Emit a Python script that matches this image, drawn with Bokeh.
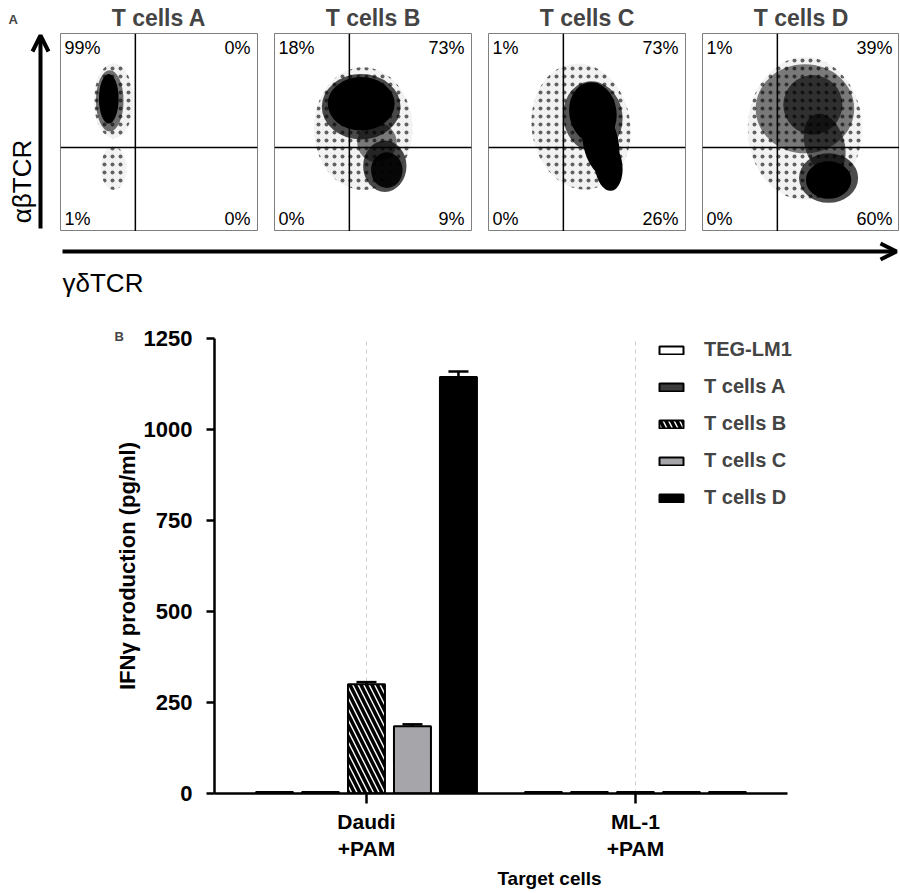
import math
from bokeh.plotting import figure
from bokeh.layouts import column, row
from bokeh.models import (Range1d, Span, Arrow, OpenHead, FixedTicker, Whisker, TeeHead,
                          ColumnDataSource, Legend, LegendItem)
from bokeh.embed import file_html
from bokeh.resources import INLINE
from bokeh.core.properties import value

FONT = "Liberation Sans"

# ---------------- Panel A data ----------------
flow_titles = ["T cells A", "T cells B", "T cells C", "T cells D"]
q_ul = [99, 18, 1, 1]
q_ur = [0, 73, 73, 39]
q_ll = [1, 0, 0, 0]
q_lr = [0, 9, 26, 60]
gate_x = 0.38
gate_y = 0.424

# cell populations approximated as density ellipses (normalised log fluorescence)
pop_cx = [[0.27, 0.27, 0.25, 0.245],
          [0.45, 0.56, 0.57, 0.52, 0.44, 0.44],
          [0.47, 0.53, 0.53, 0.57, 0.61],
          [0.52, 0.52, 0.56, 0.62, 0.64, 0.64]]
pop_cy = [[0.66, 0.32, 0.66, 0.67],
          [0.52, 0.33, 0.31, 0.45, 0.63, 0.645],
          [0.53, 0.58, 0.60, 0.45, 0.33],
          [0.52, 0.62, 0.64, 0.44, 0.27, 0.26]]
pop_w = [[0.20, 0.13, 0.14, 0.10],
         [0.50, 0.22, 0.16, 0.20, 0.40, 0.34],
         [0.50, 0.30, 0.24, 0.18, 0.14],
         [0.58, 0.50, 0.30, 0.20, 0.30, 0.23]]
pop_h = [[0.38, 0.22, 0.31, 0.25],
         [0.62, 0.26, 0.18, 0.20, 0.33, 0.27],
         [0.64, 0.36, 0.31, 0.35, 0.25],
         [0.72, 0.45, 0.30, 0.32, 0.25, 0.19]]
pop_ang = [[0, 0, 0, 0],
           [0, 0, 0, 0, 0, 0],
           [0.15, 0.15, 0.15, 0.2, 0.1],
           [0, 0, -0.2, 0.3, 0, 0]]
pop_dens = [[0.05, 0.05, 0.55, 1.0],
            [0.05, 0.7, 0.9, 0.5, 0.7, 1.0],
            [0.05, 0.65, 1.0, 1.0, 1.0],
            [0.05, 0.5, 0.6, 0.6, 0.7, 1.0]]

# ---------------- Panel B data ----------------
targets = ["Daudi\n+PAM", "ML-1\n+PAM"]
series = ["TEG-LM1", "T cells A", "T cells B", "T cells C", "T cells D"]
teg_lm1 = [4, 4]
tcells_a = [4, 4]
tcells_b = [300, 4]
tcells_c = [185, 4]
tcells_d = [1144, 4]
err_teg = [0, 0]
err_a = [0, 0]
err_b = [6, 0]
err_c = [5, 0]
err_d = [15, 0]
y_ticks = [0, 250, 500, 750, 1000, 1250]

# ---------------- Panel A figures ----------------
def flow_panel(i, left, right):
    p = figure(frame_width=197, frame_height=198, x_range=Range1d(0, 1), y_range=Range1d(0, 1),
               x_axis_location=None, y_axis_location=None,
               min_border_left=left, min_border_right=right, min_border_top=33, min_border_bottom=0,
               toolbar_location=None, output_backend="svg", title=flow_titles[i])
    p.grid.visible = False
    p.outline_line_color = "#7f7f7f"
    p.outline_line_width = 1
    p.title.text_font = FONT
    p.title.text_font_size = "23px"
    p.title.text_font_style = "bold"
    p.title.align = "center"
    p.title.standoff = 5
    p.title.offset = 0
    src = ColumnDataSource(dict(x=pop_cx[i], y=pop_cy[i], w=pop_w[i], h=pop_h[i],
                                a=pop_ang[i], d=pop_dens[i]))
    p.ellipse(x="x", y="y", width="w", height="h", angle="a", fill_color="black",
              fill_alpha="d", line_color=None, source=src)
    halo = [k for k, d in enumerate(pop_dens[i]) if d < 0.2]
    hsrc = ColumnDataSource(dict(x=[pop_cx[i][k] for k in halo], y=[pop_cy[i][k] for k in halo],
                                 w=[pop_w[i][k] for k in halo], h=[pop_h[i][k] for k in halo],
                                 a=[pop_ang[i][k] for k in halo]))
    p.ellipse(x="x", y="y", width="w", height="h", angle="a", fill_alpha=0, line_color=None,
              hatch_pattern="dot", hatch_color="black", hatch_scale=8, hatch_weight=1,
              hatch_alpha=0.6, source=hsrc)
    p.add_layout(Span(location=gate_x, dimension="height", line_color="black", line_width=1.5))
    p.add_layout(Span(location=gate_y, dimension="width", line_color="black", line_width=1.5))
    kw = dict(text_font=value(FONT), text_font_size="18px", text_color="black")
    p.text(x=[0.02], y=[0.975], text=[f"{q_ul[i]}%"], text_align="left", text_baseline="top", **kw)
    p.text(x=[0.965], y=[0.975], text=[f"{q_ur[i]}%"], text_align="right", text_baseline="top", **kw)
    p.text(x=[0.02], y=[0.015], text=[f"{q_ll[i]}%"], text_align="left", text_baseline="bottom", **kw)
    p.text(x=[0.965], y=[0.015], text=[f"{q_lr[i]}%"], text_align="right", text_baseline="bottom", **kw)
    return p

flows = [flow_panel(0, 0, 1), flow_panel(1, 16, 1), flow_panel(2, 16, 1), flow_panel(3, 16, 0)]

# left strip with alpha-beta arrow (frame aligned with the flow frames)
sa = figure(frame_width=60, frame_height=198, x_range=Range1d(0, 60), y_range=Range1d(231, 33),
            x_axis_location=None, y_axis_location=None,
            min_border_left=0, min_border_right=0, min_border_top=33, min_border_bottom=0,
            toolbar_location=None, output_backend="svg", title="A")
sa.grid.visible = False
sa.outline_line_color = None
sa.title.text_font = FONT
sa.title.text_font_size = "13px"
sa.title.text_font_style = "bold"
sa.title.align = "left"
sa.title.offset = 8
sa.title.standoff = 14
sa.add_layout(Arrow(end=OpenHead(size=16, line_width=4, line_color="black"),
                    x_start=40, y_start=228, x_end=40, y_end=35, line_width=4, line_color="black"))
sa.text(x=[21], y=[181], text=["αβTCR"], angle=math.pi / 2, text_align="center",
        text_baseline="middle", text_font=value(FONT), text_font_size="26px")

# strip with gamma-delta arrow
sg = figure(frame_width=899, frame_height=69, x_range=Range1d(0, 899), y_range=Range1d(69, 0),
            x_axis_location=None, y_axis_location=None,
            min_border_left=0, min_border_right=0, min_border_top=0, min_border_bottom=0,
            toolbar_location=None, output_backend="svg")
sg.grid.visible = False
sg.outline_line_color = None
sg.add_layout(Arrow(end=OpenHead(size=16, line_width=4, line_color="black"),
                    x_start=62, y_start=20, x_end=896, y_end=20, line_width=4, line_color="black"))
sg.text(x=[62], y=[51], text=["γδTCR"], text_align="left", text_baseline="middle",
        text_font=value(FONT), text_font_size="26px")

# ---------------- Panel B figure ----------------
x_lo, x_hi = -0.565, 1.565
pb = figure(frame_width=670, frame_height=455, x_range=Range1d(x_lo, 1.926), y_range=Range1d(0, 1250),
            min_border_left=214, min_border_right=15, min_border_top=38, min_border_bottom=90,
            toolbar_location=None, output_backend="svg", title="B")
pb.title.text_font = FONT
pb.title.text_font_size = "13px"
pb.title.text_font_style = "bold"
pb.title.align = "left"
pb.title.offset = -100
pb.title.standoff = -10
pb.outline_line_color = None
pb.ygrid.visible = False
pb.xgrid.grid_line_color = "#cccccc"
pb.xgrid.grid_line_dash = "4 4"
pb.xgrid.grid_line_width = 1

vals = [teg_lm1, tcells_a, tcells_b, tcells_c, tcells_d]
errs = [err_teg, err_a, err_b, err_c, err_d]
fills = ["white", "#3c3c3c", "white", "#a6a6aa", "black"]
hatches = [None, None, "left_diagonal_line", None, None]
step = 0.171
bw = 0.1375
items = []
for s, name in enumerate(series):
    xs = [g + (s - 2) * step for g in range(len(targets))]
    src = ColumnDataSource(dict(x=xs, top=vals[s]))
    kw = {}
    if hatches[s]:
        kw = dict(hatch_pattern=hatches[s], hatch_color="black", hatch_weight=3.5, hatch_scale=11)
    r = pb.vbar(x="x", top="top", bottom=0, width=bw, source=src, fill_color=fills[s],
                line_color="black", line_width=2, **kw)
    items.append(LegendItem(label=name, renderers=[r]))
    ex = [x for x, e in zip(xs, errs[s]) if e > 0]
    if ex:
        lo = [v for v, e in zip(vals[s], errs[s]) if e > 0]
        hi = [v + e for v, e in zip(vals[s], errs[s]) if e > 0]
        wsrc = ColumnDataSource(dict(base=ex, lower=lo, upper=hi))
        pb.add_layout(Whisker(source=wsrc, base="base", lower="lower", upper="upper",
                              lower_head=None, upper_head=TeeHead(size=20, line_width=2.5),
                              line_width=2.5, line_color="black"))

legend = Legend(items=items, location=(442, 284), padding=0, spacing=14, margin=0,
                glyph_width=30, glyph_height=10, label_standoff=18,
                label_text_font=FONT, label_text_font_size="20px", label_text_font_style="bold",
                border_line_color=None, background_fill_alpha=0)
pb.add_layout(legend)

pb.yaxis.ticker = FixedTicker(ticks=y_ticks)
pb.xaxis.ticker = FixedTicker(ticks=list(range(len(targets))))
pb.xaxis.major_label_overrides = {i: t for i, t in enumerate(targets)}
pb.xaxis.bounds = (x_lo, x_hi)
for ax in (pb.xaxis[0], pb.yaxis[0]):
    ax.axis_line_width = 2.5
    ax.major_tick_line_width = 2.5
    ax.major_tick_in = 0
    ax.minor_tick_line_color = None
    ax.major_label_text_font = FONT
    ax.major_label_text_font_style = "bold"
    ax.major_label_text_font_size = "22px"
    ax.major_label_text_color = "black"
    ax.axis_label_text_font = FONT
    ax.axis_label_text_font_style = "bold"
    ax.axis_label_text_color = "black"
pb.yaxis.major_tick_out = 8
pb.xaxis.major_tick_out = 10
pb.yaxis.major_label_standoff = 14
pb.xaxis.major_label_standoff = 6
pb.xaxis.major_label_text_font_size = "21px"
pb.xaxis.major_label_text_line_height = 1.2
pb.yaxis.axis_label = "IFNγ production (pg/ml)"
pb.yaxis.axis_label_text_font_size = "22px"
pb.yaxis.axis_label_standoff = 1
pb.xaxis.axis_label = "Target cells"
pb.xaxis.axis_label_text_font_size = "19px"
pb.xaxis.axis_label_standoff = 5

layout = column(row(sa, *flows), row(sg), row(pb))
open("out.html", "w").write(file_html(layout, INLINE))
